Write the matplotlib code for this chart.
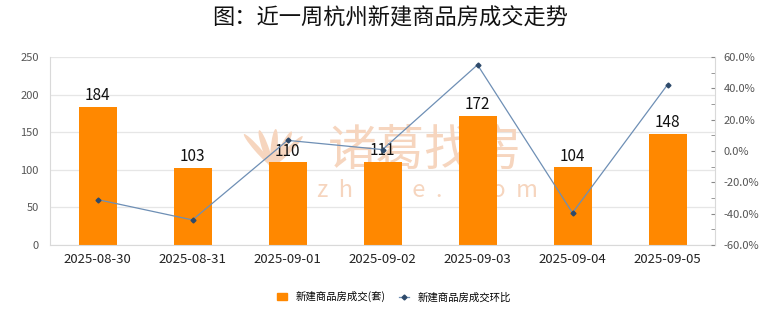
import matplotlib
matplotlib.use("Agg")
import matplotlib.pyplot as plt
from matplotlib.ticker import MultipleLocator, FuncFormatter
from matplotlib.lines import Line2D
from matplotlib.patches import Patch, Ellipse

plt.rcParams['font.family'] = ['Noto Sans CJK SC', 'DejaVu Sans']

dates = ["2025-08-30", "2025-08-31", "2025-09-01", "2025-09-02",
         "2025-09-03", "2025-09-04", "2025-09-05"]
deals = [184, 103, 110, 111, 172, 104, 148]
change_pct = [-31.0, -44.0, 6.8, 0.9, 55.0, -39.5, 42.3]

title = "图：近一周杭州新建商品房成交走势"
bar_label = "新建商品房成交(套)"
line_label = "新建商品房成交环比"

bar_color = "#FF8800"
line_color = "#6E8FB5"
marker_color = "#2E4A6B"
grid_color = "#E6E6E6"
mark_color = "#F6D5BE"

W, H = 780, 328
fig = plt.figure(figsize=(7.8, 3.28), dpi=100)
ax = fig.add_axes([50 / W, 1 - 245 / H, 665 / W, 188 / H])
ax2 = ax.twinx()

# faint watermark behind the bars
ax.text(425 / W, 1 - 151 / H, "诸葛找房", transform=fig.transFigure, ha="center",
        va="center", fontsize=35, color=mark_color, zorder=1)
ax.text(427 / W, 1 - 190 / H, "z  h  u  g  e  .     c  o  m", transform=fig.transFigure,
        ha="center", va="center", fontsize=17, color=mark_color, zorder=1)
for dx, ang, h in [(-14, 20, 34), (-6, 8, 40), (2, -2, 42), (10, -12, 38), (17, -22, 30)]:
    ax.add_patch(Ellipse(((272 + dx) / W, 1 - 150 / H), 7 / W, h / H, angle=ang,
                         transform=fig.transFigure, facecolor=mark_color,
                         edgecolor="none", zorder=1))

x = list(range(len(dates)))
ax.bar(x, deals, width=0.4, color=bar_color, zorder=2)
for xi, v in zip(x, deals):
    ax.text(xi, v + 3, str(v), ha="center", va="bottom", fontsize=11, color="#111111", zorder=5)

ax.set_xlim(-0.5, len(dates) - 0.5)
ax.set_ylim(0, 250)
ax.yaxis.set_major_locator(MultipleLocator(50))
ax.grid(axis="y", color=grid_color, linewidth=0.9, zorder=0)
ax.set_axisbelow(True)
ax.set_xticks(x)
ax.set_xticklabels(dates, fontsize=9.5, color="#222222")
ax.tick_params(axis="x", length=0, pad=6)
ax.tick_params(axis="y", length=0, labelsize=8, labelcolor="#555555", pad=8)
ax.spines["top"].set_visible(False)
ax.spines["left"].set_color("#D9D9D9")
ax.spines["bottom"].set_color("#D9D9D9")
ax.spines["right"].set_visible(False)

ax2.plot(x, change_pct, color=line_color, linewidth=0.9, marker="D",
         markersize=2.5, markerfacecolor=marker_color, markeredgecolor=marker_color, zorder=4)
ax2.set_ylim(-60, 60)
ax2.yaxis.set_major_locator(MultipleLocator(20))
ax2.yaxis.set_minor_locator(MultipleLocator(10))
ax2.yaxis.set_major_formatter(FuncFormatter(lambda v, p: f"{v:.1f}%"))
ax2.tick_params(axis="y", which="both", direction="in", length=3, color="#888888",
                labelsize=8, labelcolor="#555555", pad=6)
ax2.spines["right"].set_color("#D9D9D9")
ax2.spines["top"].set_visible(False)
ax2.spines["left"].set_visible(False)
ax2.spines["bottom"].set_visible(False)

fig.text(0.5, 0.945, title, ha="center", va="center", fontsize=16, color="#111111")

handles = [Patch(facecolor=bar_color, edgecolor=bar_color),
           Line2D([0], [0], color=line_color, linewidth=0.9, marker="D", markersize=2.5,
                  markerfacecolor=marker_color, markeredgecolor=marker_color)]
fig.legend(handles, [bar_label, line_label], loc="center", bbox_to_anchor=(0.505, 0.095),
           ncol=2, frameon=False, fontsize=7.5, handlelength=1.0, handleheight=0.6,
           columnspacing=1.3, handletextpad=0.8)

fig.savefig("out.png", dpi=100)
